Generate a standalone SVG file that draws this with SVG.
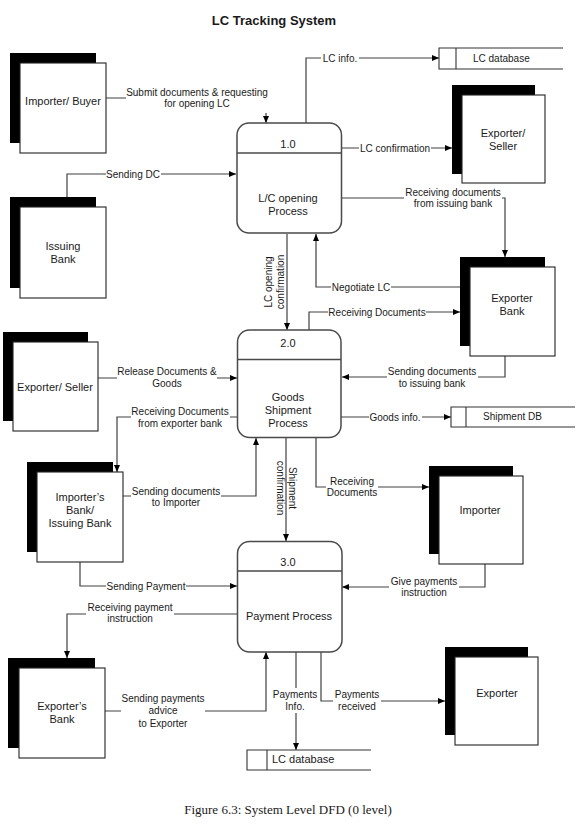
<svg xmlns="http://www.w3.org/2000/svg" width="579" height="840" viewBox="0 0 579 840">
<style>
  text { font-family: "Liberation Sans", Arial, sans-serif; fill: #1a1a1a; }
  .title { font-size: 13px; font-weight: bold; }
  .cap { font-family: "Liberation Serif", "Times New Roman", serif; font-size: 13px; }
  .ent { font-size: 11px; text-anchor: middle; }
  .proc { font-size: 11px; text-anchor: middle; }
  .lbl { font-size: 10px; text-anchor: middle; }
  .st { font-size: 10px; }
  .shadow { fill: #000; }
  .front { fill: #fff; stroke: #222; stroke-width: 1.1; }
  .pbox { fill: #fff; stroke: #4a4a4a; stroke-width: 1.5; }
  .pdiv { stroke: #4a4a4a; stroke-width: 1.5; }
  .store { fill: none; stroke: #333; stroke-width: 1.1; }
  .flow { fill: none; stroke: #404040; stroke-width: 1.2; marker-end: url(#arr); }
  .bg { fill: #fff; }
</style>
<defs>
  <marker id="arr" markerUnits="userSpaceOnUse" markerWidth="8" markerHeight="7" refX="7" refY="3.5" orient="auto">
    <path d="M0,0.5 L7,3.5 L0,6.5 z" fill="#000"/>
  </marker>
</defs>
<rect width="579" height="840" fill="#fff"/>
<text class="title" x="274" y="25" text-anchor="middle">LC Tracking System</text>

<g id="connectors">
  <path class="flow" d="M106,98 H266 V123"/>
  <path class="flow" d="M67,197 V174 H236"/>
  <path class="flow" d="M306,123 V58 H439"/>
  <path class="flow" d="M342,148 H452"/>
  <path class="flow" d="M342,198 H505 V257"/>
  <path class="flow" d="M460,287 H316 V234"/>
  <path class="flow" d="M287,234 V330"/>
  <path class="flow" d="M309,330 V312 H460"/>
  <path class="flow" d="M98,378 H237"/>
  <path class="flow" d="M237,417 H117 V472"/>
  <path class="flow" d="M123,496 H256 V438"/>
  <path class="flow" d="M505,356 V377 H342"/>
  <path class="flow" d="M341,417 H451"/>
  <path class="flow" d="M316,438 V487 H429"/>
  <path class="flow" d="M286,438 V541"/>
  <path class="flow" d="M485,564 V587 H342"/>
  <path class="flow" d="M80,562 V586 H237"/>
  <path class="flow" d="M237,614 H67 V658"/>
  <path class="flow" d="M104,711 H266 V652"/>
  <path class="flow" d="M296,652 V750"/>
  <path class="flow" d="M321,652 V701 H445"/>
</g>

<g id="labels">
  <rect class="bg" x="126" y="85" width="143" height="28"/>
  <text class="lbl" x="197" y="95.5">Submit documents &amp; requesting<tspan x="197" y="107">for opening LC</tspan></text>
  <rect class="bg" x="106" y="169" width="55" height="11"/>
  <text class="lbl" x="133" y="177.5">Sending DC</text>
  <rect class="bg" x="321" y="53" width="38" height="11"/>
  <text class="lbl" x="340" y="61.5">LC info.</text>
  <rect class="bg" x="359" y="143" width="72" height="11"/>
  <text class="lbl" x="395" y="151.5">LC confirmation</text>
  <rect class="bg" x="404" y="187" width="98" height="23"/>
  <text class="lbl" x="453" y="195.5">Receiving documents<tspan x="453" y="207">from issuing bank</tspan></text>
  <rect class="bg" x="331" y="282" width="60" height="11"/>
  <text class="lbl" x="361" y="290.5">Negotiate LC</text>
  <text class="lbl" transform="translate(271.5,282) rotate(-90)" x="0" y="0">LC opening<tspan x="0" y="12">confirmation</tspan></text>
  <rect class="bg" x="328" y="307" width="98" height="11"/>
  <text class="lbl" x="377" y="315.5">Receiving Documents</text>
  <rect class="bg" x="117" y="366" width="100" height="23"/>
  <text class="lbl" x="167" y="375">Release Documents &amp;<tspan x="167" y="386.5">Goods</tspan></text>
  <rect class="bg" x="131" y="405" width="99" height="24"/>
  <text class="lbl" x="180" y="414.5">Receiving Documents<tspan x="180" y="426.5">from exporter bank</tspan></text>
  <rect class="bg" x="131" y="485" width="90" height="23"/>
  <text class="lbl" x="176" y="494.5">Sending documents<tspan x="176" y="506">to Importer</tspan></text>
  <rect class="bg" x="387" y="365" width="91" height="24"/>
  <text class="lbl" x="432" y="374.5">Sending documents<tspan x="432" y="386.5">to issuing bank</tspan></text>
  <rect class="bg" x="369" y="412" width="53" height="11"/>
  <text class="lbl" x="395" y="420.5">Goods info.</text>
  <rect class="bg" x="326" y="475" width="52" height="23"/>
  <text class="lbl" x="352" y="484.5">Receiving<tspan x="352" y="496">Documents</tspan></text>
  <text class="lbl" transform="translate(288.5,488) rotate(90)" x="0" y="0">Shipment<tspan x="0" y="12">confirmation</tspan></text>
  <rect class="bg" x="389" y="575" width="70" height="23"/>
  <text class="lbl" x="424" y="584.5">Give payments<tspan x="424" y="596">instruction</tspan></text>
  <rect class="bg" x="106" y="581" width="80" height="11"/>
  <text class="lbl" x="146" y="589.5">Sending Payment</text>
  <rect class="bg" x="86" y="602" width="88" height="23"/>
  <text class="lbl" x="130" y="611">Receiving payment<tspan x="130" y="622">instruction</tspan></text>
  <rect class="bg" x="121" y="691" width="84" height="38"/>
  <text class="lbl" x="163" y="701.5">Sending payments<tspan x="163" y="714">advice</tspan><tspan x="163" y="726.5">to Exporter</tspan></text>
  <rect class="bg" x="272" y="688" width="46" height="25"/>
  <text class="lbl" x="295" y="697.5">Payments<tspan x="295" y="710">Info.</tspan></text>
  <rect class="bg" x="333" y="688" width="48" height="25"/>
  <text class="lbl" x="357" y="697.5">Payments<tspan x="357" y="710">received</tspan></text>
</g>

<g id="p1">
  <rect class="pbox" x="237" y="123" width="104.5" height="110" rx="12"/>
  <line class="pdiv" x1="237" y1="153" x2="341.5" y2="153"/>
  <text class="proc" x="288" y="148">1.0</text>
  <text class="proc" x="288" y="202">L/C opening<tspan x="288" y="214.5">Process</tspan></text>
</g>
<g id="p2">
  <rect class="pbox" x="237.5" y="330" width="103.5" height="107.5" rx="12"/>
  <line class="pdiv" x1="237.5" y1="359.5" x2="341" y2="359.5"/>
  <text class="proc" x="288" y="347">2.0</text>
  <text class="proc" x="288" y="400.5">Goods<tspan x="288" y="413.5">Shipment</tspan><tspan x="288" y="426.5">Process</tspan></text>
</g>
<g id="p3">
  <rect class="pbox" x="237.5" y="541.5" width="104.5" height="110.5" rx="12"/>
  <line class="pdiv" x1="237.5" y1="571" x2="342" y2="571"/>
  <text class="proc" x="288" y="566">3.0</text>
  <text class="proc" x="289" y="620">Payment Process</text>
</g>

<g id="importer_buyer">
  <rect class="shadow" x="10" y="53" width="86" height="90"/>
  <rect class="front" x="20" y="63" width="86" height="90"/>
  <text class="ent" x="63" y="105">Importer/ Buyer</text>
</g>
<g id="issuing_bank">
  <rect class="shadow" x="10" y="197" width="86" height="91"/>
  <rect class="front" x="20" y="207" width="86" height="91"/>
  <text class="ent" x="63" y="250">Issuing<tspan x="63" y="263">Bank</tspan></text>
</g>
<g id="exporter_seller_left">
  <rect class="shadow" x="3" y="332" width="85" height="89"/>
  <rect class="front" x="13" y="342" width="85" height="89"/>
  <text class="ent" x="55" y="391">Exporter/ Seller</text>
</g>
<g id="importers_bank">
  <rect class="shadow" x="27" y="462" width="86" height="90"/>
  <rect class="front" x="37" y="472" width="86" height="90"/>
  <text class="ent" x="80" y="501">Importer’s<tspan x="80" y="514">Bank/</tspan><tspan x="80" y="527">Issuing Bank</tspan></text>
</g>
<g id="exporters_bank">
  <rect class="shadow" x="8" y="658" width="87" height="90"/>
  <rect class="front" x="19" y="668" width="86" height="90"/>
  <text class="ent" x="62" y="710">Exporter’s<tspan x="62" y="723">Bank</tspan></text>
</g>
<g id="exporter_seller_top">
  <rect class="shadow" x="452" y="85" width="83" height="89"/>
  <rect class="front" x="462" y="95" width="83" height="88"/>
  <text class="ent" x="503" y="137">Exporter/<tspan x="503" y="150">Seller</tspan></text>
</g>
<g id="exporter_bank">
  <rect class="shadow" x="460" y="257" width="85" height="89"/>
  <rect class="front" x="470" y="267" width="85" height="89"/>
  <text class="ent" x="512" y="302">Exporter<tspan x="512" y="315">Bank</tspan></text>
</g>
<g id="importer">
  <rect class="shadow" x="429" y="466" width="84" height="88"/>
  <rect class="front" x="439" y="476" width="84" height="88"/>
  <text class="ent" x="480" y="514">Importer</text>
</g>
<g id="exporter">
  <rect class="shadow" x="445" y="647" width="83" height="88"/>
  <rect class="front" x="455" y="657" width="83" height="88"/>
  <text class="ent" x="497" y="697">Exporter</text>
</g>

<g id="lc_database_top">
  <path class="store" d="M563,48 H439 V69 H563 M456,48 V69"/>
  <text class="st" x="473" y="62">LC database</text>
</g>
<g id="shipment_db">
  <path class="store" d="M575,407 H451 V427 H575 M466,407 V427"/>
  <text class="st" x="483" y="420">Shipment DB</text>
</g>
<g id="lc_database_bottom">
  <path class="store" d="M371,750 H247 V770 H371 M267,750 V770"/>
  <text class="st" x="272" y="763" style="font-size:11px">LC database</text>
</g>

<text class="cap" x="288" y="814" text-anchor="middle">Figure 6.3: System Level DFD (0 level)</text>
</svg>
